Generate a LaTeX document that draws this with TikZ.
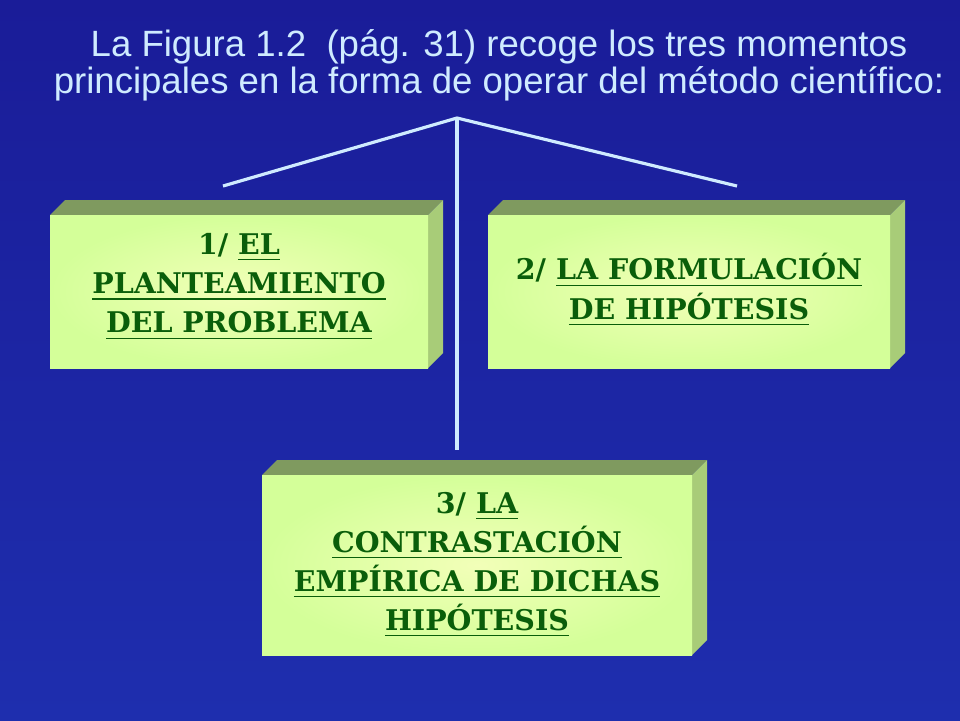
\documentclass[tikz,border=0pt]{standalone}
\usepackage{fontspec}
\setmainfont{Liberation Sans}
\newfontfamily\boxfont{DejaVu Serif}
\usetikzlibrary{positioning}
\definecolor{bgtop}{HTML}{1A1C98}
\definecolor{bgmid}{HTML}{2A4CD6}
\definecolor{bgbot}{HTML}{1E2EAE}
\definecolor{titleblue}{HTML}{CFEBFF}
\definecolor{boxgreen}{HTML}{D4FF99}
\definecolor{boxlight}{HTML}{F2FFB8}
\definecolor{bevtop}{HTML}{7F9A5F}
\definecolor{bevside}{HTML}{A8CC78}
\definecolor{txtgreen}{HTML}{0A5E0A}
\tikzset{
  boxface/.style={inner color=boxlight, outer color=boxgreen},
  boxtext/.style={font=\boxfont\bfseries\fontsize{8.1}{11.1}\selectfont, text=txtgreen, align=center},
  link/.style={draw=titleblue, line width=0.9pt}
}
% 3D box: left, top, right, bottom (pixels), bevel depth
\newcommand{\bevelbox}[5]{%
  \fill[bevtop] (#1,#2) -- ++(#5,-#5) -- (#3+#5,#2-#5) -- (#3,#2) -- cycle;
  \fill[bevside] (#3,#2) -- (#3+#5,#2-#5) -- (#3+#5,#4-#5) -- (#3,#4) -- cycle;
  \fill[boxface] (#1,#2) rectangle (#3,#4);
}
\begin{document}
\begin{tikzpicture}[x=0.01cm,y=-0.01cm]
	%Background
	\useasboundingbox (0,0) rectangle (960,720);
	\fill[top color=bgtop, middle color=bgmid, bottom color=bgbot] (0,0) rectangle (960,720);

	%Title
	\node[text=titleblue, font=\fontsize{10.4}{10.6}\selectfont, align=center] (title) at (499,65)
	{La Figura 1.2\ \ (pág. 31) recoge los tres momentos\\principales en la forma de operar del método científico:};

	%Boxes
	\bevelbox{50}{215}{428}{368}{15}
	\bevelbox{488}{215}{890}{368}{15}
	\bevelbox{262}{475}{692}{655}{15}
	\node[boxtext] (step1) at (239,287) {1/ \underline{EL}\\\underline{PLANTEAMIENTO}\\\underline{DEL PROBLEMA}};
	\node[boxtext] (step2) at (689,290) {2/ \underline{LA FORMULACIÓN}\\\underline{DE HIPÓTESIS}};
	\node[boxtext] (step3) at (477,565) {3/ \underline{LA}\\\underline{CONTRASTACIÓN}\\\underline{EMPÍRICA DE DICHAS}\\\underline{HIPÓTESIS}};

	%Connectors
	\coordinate (apex) at (457,118);
	\coordinate (end1) at (223,186);
	\coordinate (end2) at (737,186);
	\coordinate (end3) at (457,450);
	\draw[link] (end1) -- (apex) -- (end2);
	\draw[link] (apex) -- (end3);
\end{tikzpicture}
\end{document}
